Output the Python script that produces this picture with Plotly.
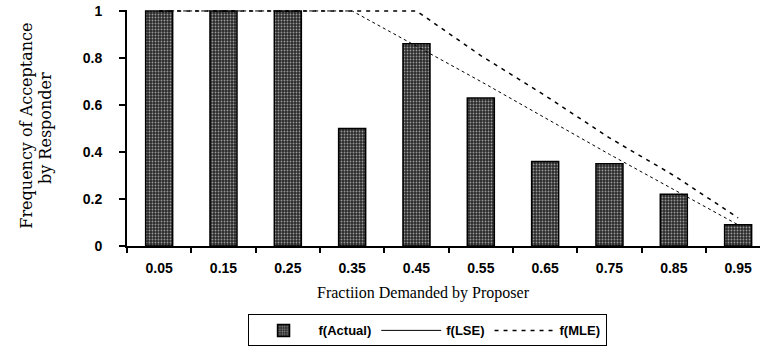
import plotly.graph_objects as go

categories = ["0.05", "0.15", "0.25", "0.35", "0.45", "0.55", "0.65", "0.75", "0.85", "0.95"]
f_actual = [1.0, 1.0, 1.0, 0.50, 0.86, 0.63, 0.36, 0.35, 0.22, 0.09]
f_lse = [1.0, 1.0, 1.0, 1.0, 0.85, 0.70, 0.545, 0.39, 0.24, 0.09]
f_mle = [1.0, 1.0, 1.0, 1.0, 1.0, 0.81, 0.64, 0.46, 0.30, 0.12]

fig = go.Figure()
fig.add_trace(go.Bar(
    x=categories, y=f_actual, name="f(Actual)", width=0.42, legendrank=1,
    marker=dict(color="#3c3c3c", line=dict(color="black", width=1.5),
                pattern=dict(shape=".", fgcolor="#9a9a9a", bgcolor="#2a2a2a",
                             size=3, solidity=0.3, fillmode="replace")),
))
fig.add_trace(go.Scatter(
    x=categories, y=f_lse, name="f(LSE)", mode="lines", showlegend=False,
    line=dict(color="black", width=1, dash="dot"),
))
# legend entry for LSE drawn solid, as in the original legend
fig.add_trace(go.Scatter(
    x=[None], y=[None], name="f(LSE)", mode="lines", legendrank=2,
    line=dict(color="black", width=1),
))
fig.add_trace(go.Scatter(
    x=categories, y=f_mle, name="f(MLE)", mode="lines", legendrank=3,
    line=dict(color="black", width=1.5, dash="4px,5px"),
))

fig.update_layout(
    width=760, height=347,
    margin=dict(l=127, r=0, t=10, b=99),
    paper_bgcolor="white", plot_bgcolor="white",
    showlegend=True,
    legend=dict(orientation="h", x=0.474, xanchor="center", y=-0.29, yanchor="top",
                bordercolor="black", borderwidth=1,
                font=dict(family="Liberation Sans", size=13, color="black", weight="bold"),
                itemwidth=60, tracegroupgap=0),
    bargap=0.58,
)
fig.update_xaxes(
    type="category", range=[-0.5, 9.34],
    showline=True, linecolor="black", linewidth=2,
    ticks="outside", tickson="boundaries", ticklen=5, tickwidth=2, tickcolor="black",
    ticklabelstandoff=8,
    showgrid=False,
    tickfont=dict(family="Liberation Sans", size=14, color="black", weight="bold"),
)
fig.update_yaxes(
    range=[0, 1.004], tickvals=[0, 0.2, 0.4, 0.6, 0.8, 1], ticktext=["0", "0.2", "0.4", "0.6", "0.8", "1"],
    showline=True, linecolor="black", linewidth=2,
    ticks="outside", ticklen=6, tickwidth=2, tickcolor="black",
    ticklabelstandoff=14,
    showgrid=False, zeroline=False,
    tickfont=dict(family="Liberation Sans", size=14, color="black", weight="bold"),
)
fig.add_annotation(text="Fractiion Demanded by Proposer", xref="paper", yref="paper",
                   x=0.469, y=-0.198, xanchor="center", yanchor="middle", showarrow=False,
                   font=dict(family="Liberation Serif", size=16, color="black"))
fig.add_annotation(text="Frequency of Acceptance", xref="paper", yref="paper",
                   x=0, y=0.51, xanchor="center", yanchor="middle", xshift=-100,
                   textangle=-90, showarrow=False,
                   font=dict(family="DejaVu Serif", size=16, color="black"))
fig.add_annotation(text="by Responder", xref="paper", yref="paper",
                   x=0, y=0.50, xanchor="center", yanchor="middle", xshift=-82,
                   textangle=-90, showarrow=False,
                   font=dict(family="DejaVu Serif", size=16, color="black"))

fig.write_html("out.html")
